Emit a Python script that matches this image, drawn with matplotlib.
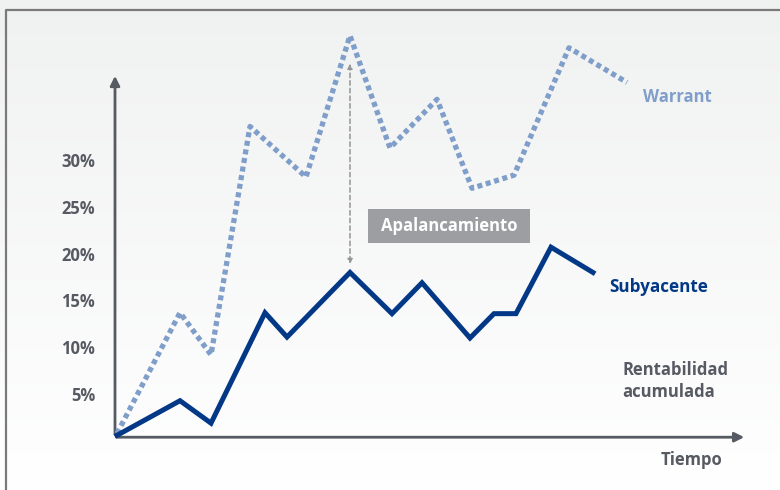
import numpy as np
import matplotlib
matplotlib.use('Agg')
import matplotlib.pyplot as plt
from matplotlib.patches import Rectangle

# datos (tiempo, rentabilidad acumulada en %)
t_sub = [2, 65, 96, 150, 172, 235, 277, 307, 355, 379, 401, 436, 478]
r_sub = [0.8, 4.5, 2.1, 13.9, 11.3, 18.2, 13.8, 17.1, 11.2, 13.8, 13.8, 20.9, 18.2]
t_war = [2, 65, 96, 135, 191, 235, 275, 322, 357, 399, 454, 512]
r_war = [1.0, 13.9, 9.4, 33.8, 28.4, 43.5, 31.5, 36.7, 27.2, 28.6, 42.2, 38.5]
ticks = [5, 10, 15, 20, 25, 30]
tick_labels = ['5%', '10%', '15%', '20%', '25%', '30%']

plt.rcParams['font.family'] = ['Open Sans', 'DejaVu Sans']
gris = '#565a62'
navy = '#033887'
azul = '#7f9ec9'

fig = plt.figure(figsize=(7.8, 4.9), dpi=100)
ax = fig.add_axes([0, 0, 1, 1])
ax.set_xlim(-115, 665)
ax.set_ylim(-5.04, 47.31)
ax.axis('off')

# fondo degradado
grad = np.linspace(0, 1, 256).reshape(-1, 1)
cmap = matplotlib.colors.LinearSegmentedColormap.from_list('bg', ['#ffffff', '#f0f1f1'])
ax.imshow(grad, extent=[-115, 665, -5.04, 47.31], origin='lower', aspect='auto', cmap=cmap, zorder=0)

# marco
ax.plot([-109, -109, 665], [-5.04, 46.24, 46.24], color='#7a7a7a', lw=1.6, zorder=1,
        solid_capstyle='butt')

# ejes con flechas
ax.annotate('', xy=(0, 39.5), xytext=(0, 0.6),
            arrowprops=dict(arrowstyle='-|>', color=gris, lw=2, mutation_scale=14))
ax.annotate('', xy=(632, 0.6), xytext=(-1, 0.6),
            arrowprops=dict(arrowstyle='-|>', color=gris, lw=2, mutation_scale=14))

for v, lab in zip(ticks, tick_labels):
    ax.text(-20, v, lab, ha='right', va='center', fontsize=12, fontweight='bold', color=gris)

# flecha apalancamiento
ax.annotate('', xy=(235, 18.8), xytext=(235, 40.8),
            arrowprops=dict(arrowstyle='<|-|>', color='#959595', lw=1.1, ls=(0, (3, 2)),
                            mutation_scale=7))

ax.plot(t_war, r_war, color=azul, lw=3.8, dashes=(0.95, 0.7), dash_capstyle='butt', zorder=3)
ax.plot(t_sub, r_sub, color=navy, lw=3.6, solid_joinstyle='miter', zorder=4)

ax.add_patch(Rectangle((253, 21.4), 162, 3.55, facecolor='#9d9ea2', edgecolor='none', zorder=5))
ax.text(334, 23.2, 'Apalancamiento', ha='center', va='center', fontsize=12,
        fontweight='bold', color='white', zorder=6)

ax.text(528, 36.9, 'Warrant', ha='left', va='center', fontsize=12, fontweight='bold', color=azul)
ax.text(494, 16.6, 'Subyacente', ha='left', va='center', fontsize=12.3, fontweight='bold', color=navy)
ax.text(507, 6.6, 'Rentabilidad\nacumulada', ha='left', va='center', fontsize=12,
        fontweight='bold', color=gris, linespacing=1.35)
ax.text(546, -1.8, 'Tiempo', ha='left', va='center', fontsize=12, fontweight='bold', color=gris)

fig.savefig('out.png', dpi=100)
